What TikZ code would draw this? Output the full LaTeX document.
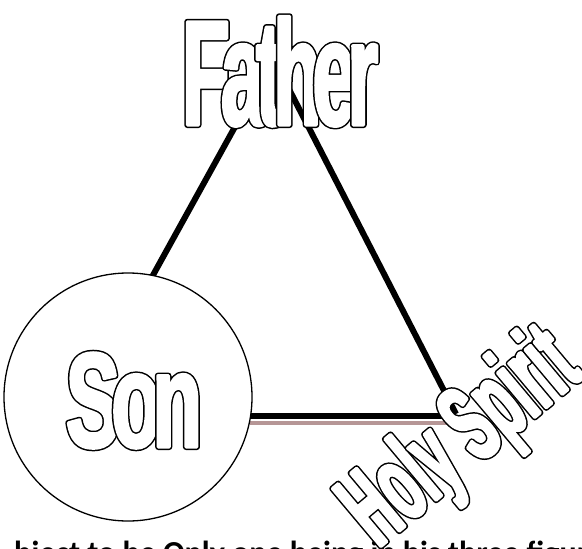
\documentclass[tikz,border=0pt]{standalone}
\usepackage{fontspec}
\setmainfont{Carlito}
\newfontfamily\fafont[FakeStretch=0.52]{Liberation Sans Bold}
\newfontfamily\sofont[FakeStretch=0.60]{Liberation Sans Bold}
\newfontfamily\hsfont[FakeStretch=0.49]{Liberation Sans Bold}
% one outlined letter: black outer stroke, then white fill with white stroke on top
\newcommand{\olet}[1]{\makebox[0pt][l]{\special{pdf:literal direct 2 Tr 6 w 1 j 0 0 0 rg 0 0 0 RG}#1}\special{pdf:literal direct 2 Tr 3 w 1 j 1 1 1 rg 1 1 1 RG}#1\special{pdf:literal direct 0 Tr 0 g 0 G 1 w 0 j}}
\definecolor{shadowbrown}{RGB}{182,150,150}
\begin{document}
\begin{tikzpicture}[x=1pt,y=-1pt,
  edge/.style={line width=6pt, black},
  shadowline/.style={line width=4pt, shadowbrown},
  wordart/.style={inner sep=0pt}]
\useasboundingbox (0,0) rectangle (582,549);
\clip (0,0) rectangle (582,549);
\coordinate (apex) at (273,58);
\coordinate (lv) at (152,277);
\coordinate (rv) at (456,414);
\coordinate (bl) at (250,416);
\coordinate (br) at (456,416);
\coordinate (sbl) at (250,423);
\coordinate (sbr) at (450,423);
\node[inner sep=0pt, anchor=base west] (caption) at (14,563) {\bfseries\fontsize{32}{32}\selectfont bject to be Only one being in his three figures};
\draw[edge] (apex) -- (lv);
\draw[edge] (apex) -- (rv);
\draw[shadowline] (sbl) -- (sbr);
\draw[edge] (bl) -- (br);
\node[draw, circle, line width=1.3pt, minimum size=248pt, inner sep=0pt, fill=white] (son) at (128,397) {};
\node[wordart, anchor=base] (sonlabel) at (134,447) {\sofont\fontsize{135}{135}\selectfont\olet{S}\kern-8.5pt\olet{o}\kern-8.5pt\olet{n}};
\node[wordart, anchor=base] (father) at (280,125) {\fafont\fontsize{150}{150}\selectfont\olet{F}\kern-8.5pt\olet{a}\kern-8.5pt\olet{t}\kern-8.5pt\olet{h}\kern-8.5pt\olet{e}\kern-8.5pt\olet{r}};
\node[wordart, anchor=base west, rotate=40] (spirit) at (378,549) {\hsfont\fontsize{110}{110}\selectfont\olet{H}\olet{o}\olet{l}\olet{y} \olet{S}\olet{p}\olet{i}\olet{r}\olet{i}\olet{t}};
\end{tikzpicture}
\end{document}
